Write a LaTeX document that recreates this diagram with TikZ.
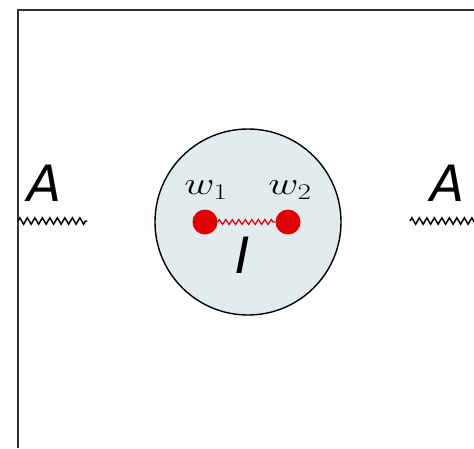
\RequirePackage{fix-cm}
\documentclass[tikz,border=0pt]{standalone}
\usepackage{fontspec}
\newfontfamily\labelfont{DejaVu Sans}
\usetikzlibrary{decorations.pathmorphing}

\definecolor{trapfill}{HTML}{E2ECEE}
\definecolor{dotred}{HTML}{E00000}

\tikzset{
  spring/.style={decorate,decoration={zigzag,amplitude=3.2pt,segment length=7.5pt},line width=1.5pt},
  bead/.style={circle,fill=dotred,inner sep=0pt,minimum size=25pt},
  biglabel/.style={font=\labelfont\itshape\fontsize{50}{50}\selectfont,inner sep=0pt},
  beadlabel/.style={font=\fontsize{32}{32}\selectfont,inner sep=0pt}
}

\begin{document}
\begin{tikzpicture}[x=1pt,y=-1pt]
  \useasboundingbox (0,0) rectangle (474,448);

  % frame
  \draw[line width=2.2pt,black!80] (18,448) -- (18,10) -- (474,10);

  % trap
  \node[circle,draw,line width=1.4pt,fill=trapfill,inner sep=0pt,minimum size=186pt] (trap) at (248,222) {};

  % beads and inner spring
  \node[bead] (w1) at (205,222) {};
  \node[bead] (w2) at (288,222) {};
  \draw[spring,dotred,line width=1.2pt,decoration={amplitude=2.5pt,segment length=6.5pt}] (w1.east) -- (w2.west);

  \node[beadlabel] (lw1) at (206,190) {\scalebox{1.3}[1]{$w_1$}};
  \node[beadlabel] (lw2) at (290,190) {\scalebox{1.3}[1]{$w_2$}};
  \node[biglabel] (li) at (243,255) {I};

  % outer springs
  \coordinate (sl1) at (18,221);
  \coordinate (sl2) at (87,221);
  \coordinate (sr1) at (410,221);
  \coordinate (sr2) at (474,221);
  \draw[spring] (sl1) -- (sl2);
  \draw[spring] (sr1) -- (sr2);

  \node[biglabel] (al) at (45,183) {A};
  \node[biglabel] (ar) at (448,183) {A};
\end{tikzpicture}
\end{document}
